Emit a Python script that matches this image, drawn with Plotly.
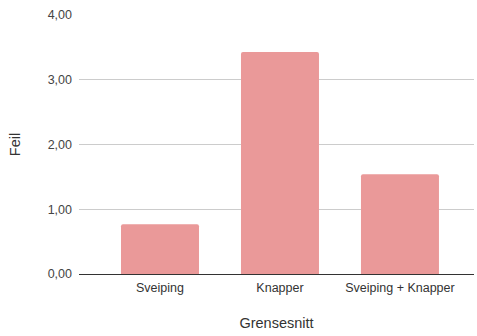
import plotly.graph_objects as go

# Feil per grensesnitt
categories = ["Sveiping", "Knapper", "Sveiping + Knapper"]
values = [0.77, 3.43, 1.54]
y_ticks = [0, 1, 2, 3, 4]

fig = go.Figure(
    go.Bar(
        x=categories,
        y=values,
        width=0.65,
        marker=dict(color="#ea9999", cornerradius=2, line=dict(width=0)),
        hoverinfo="skip",
    )
)

font_family = "Liberation Sans, Arial, sans-serif"

fig.update_layout(
    width=477,
    height=336,
    margin=dict(l=79, r=3, t=15, b=62),
    paper_bgcolor="white",
    plot_bgcolor="white",
    separators=",.",
    showlegend=False,
    bargap=0.35,
    font=dict(family=font_family, color="#444"),
    xaxis=dict(
        range=[-0.675, 2.617],
        showgrid=False,
        showline=True,
        linecolor="#333",
        linewidth=1,
        ticks="",
        tickfont=dict(size=12.5, color="#333"),
        ticklabelstandoff=2,
        title=dict(text="Grensesnitt", font=dict(size=14.5, color="#333"), standoff=23),
    ),
    yaxis=dict(
        range=[0, 4],
        tickvals=y_ticks,
        tickformat=".2f",
        showgrid=True,
        gridcolor="#cccccc",
        gridwidth=1,
        zeroline=False,
        showline=False,
        ticks="",
        tickfont=dict(size=12.5, color="#444"),
        ticklabelstandoff=6,
        title=dict(text="Feil", font=dict(size=14.5, color="#333"), standoff=23),
    ),
)

fig.write_html("out.html")
